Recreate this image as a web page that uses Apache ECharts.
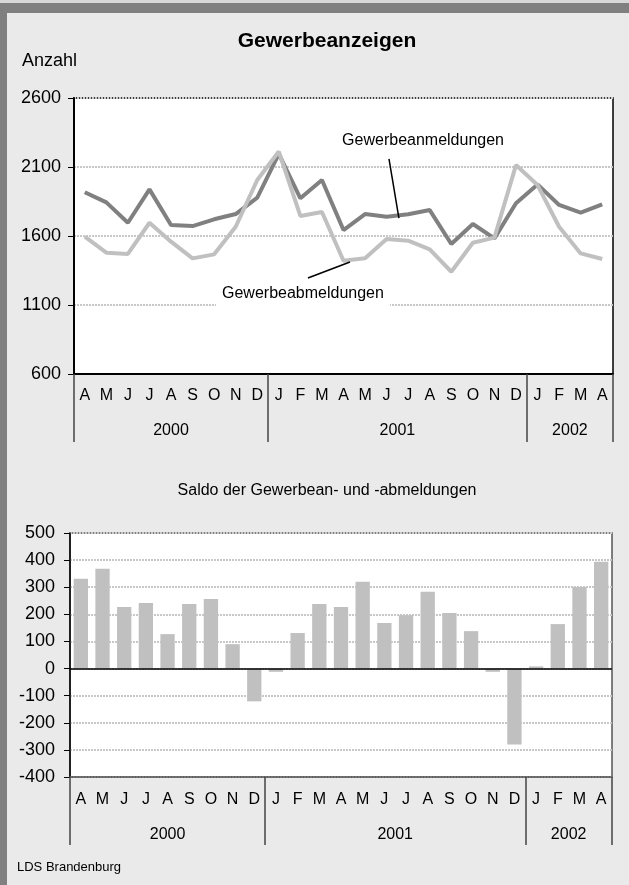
<!DOCTYPE html>
<html><head><meta charset="utf-8">
<script src="https://cdn.jsdelivr.net/npm/echarts@6/dist/echarts.min.js"></script>
<style>html,body{margin:0;padding:0;background:#eaeaea;} #c{width:629px;height:885px;}</style>
</head><body><div id="c"></div>
<script>
// ---- data ----
const months = ['A','M','J','J','A','S','O','N','D','J','F','M','A','M','J','J','A','S','O','N','D','J','F','M','A'];
const years = ['2000','2001','2002'];
const monthsPerYear = [9, 12, 4];
const anmeldungen = [1917,1844,1696,1938,1680,1672,1721,1759,1878,2195,1873,2006,1643,1759,1740,1757,1788,1542,1687,1583,1837,1974,1825,1769,1829];
const abmeldungen = [1595,1479,1470,1696,1559,1438,1467,1667,2006,2212,1745,1774,1421,1438,1578,1566,1503,1341,1551,1588,2114,1969,1667,1474,1433];
const saldo = [331,368,227,242,127,238,257,90,-121,-12,131,238,227,320,168,197,283,205,138,-12,-280,8,164,301,394];
const topAxis = {min: 600, max: 2600, step: 500};
const bottomAxis = {min: -400, max: 500, step: 100};

const FONT = '"Liberation Sans", Arial, sans-serif';
const nCat = months.length;
const yearPos = [], yearBounds = [0];
let acc = 0;
monthsPerYear.forEach(n => { yearPos.push(acc + n / 2); acc += n; yearBounds.push(acc); });
function yearFmt(v) { const i = yearPos.findIndex(p => Math.abs(p - v) < 1e-6); return i >= 0 ? years[i] : ''; }

const gridLine = {show: true, lineStyle: {color: '#c8c8c8', width: 2, type: [2, 1]}};

function monthAxis(gi, margin) {
  return {type: 'category', gridIndex: gi, data: months, position: 'bottom', boundaryGap: true,
    axisLine: {onZero: false, lineStyle: {color: gi === 0 ? '#000' : '#555', width: gi === 0 ? 2 : 1.5}},
    axisTick: {show: false},
    axisLabel: {color: '#000', fontSize: 16, margin: margin, interval: 0, fontFamily: FONT},
    splitLine: {show: false}};
}
function yearAxis(gi, margin) {
  return {type: 'value', gridIndex: gi, min: 0, max: nCat, position: 'bottom',
    axisLine: {show: false, onZero: false}, splitLine: {show: false},
    axisTick: {show: true, inside: false, length: 68, customValues: yearBounds, lineStyle: {color: '#444', width: 1.5}},
    axisLabel: {show: true, customValues: yearPos, formatter: yearFmt, color: '#000', fontSize: 16, margin: margin, fontFamily: FONT}};
}
function valAxis(gi, ax, margin) {
  return {type: 'value', gridIndex: gi, min: ax.min, max: ax.max, interval: ax.step,
    axisLine: {show: true, onZero: false, lineStyle: {color: '#000', width: gi === 0 ? 2 : 1.5}},
    axisTick: {show: true, length: 6, lineStyle: {color: '#000', width: 1}},
    axisLabel: {fontSize: 18, color: '#000', margin: margin, fontFamily: FONT, formatter: v => String(v)},
    splitLine: gridLine};
}

const chart = echarts.init(document.getElementById('c'), null, {renderer: 'canvas'});
chart.setOption({
  animation: false,
  backgroundColor: '#eaeaea',
  textStyle: {fontFamily: FONT},
  grid: [
    {left: 74, top: 98, width: 539, height: 276, show: true, backgroundColor: '#fff', borderColor: '#000', borderWidth: 1.5},
    {left: 70, top: 533, width: 542, height: 244, show: true, backgroundColor: '#fff', borderColor: '#555', borderWidth: 1.5}
  ],
  xAxis: [monthAxis(0, 14), yearAxis(0, 49), monthAxis(1, 15), yearAxis(1, 50)],
  yAxis: [valAxis(0, topAxis, 13), valAxis(1, bottomAxis, 15)],
  series: [
    {type: 'line', name: 'Gewerbeanmeldungen', xAxisIndex: 0, yAxisIndex: 0, data: anmeldungen,
     symbol: 'none', lineStyle: {color: '#808080', width: 4}, itemStyle: {color: '#808080'}},
    {type: 'line', name: 'Gewerbeabmeldungen', xAxisIndex: 0, yAxisIndex: 0, data: abmeldungen,
     symbol: 'none', lineStyle: {color: '#c0c0c0', width: 4}, itemStyle: {color: '#c0c0c0'}},
    {type: 'bar', name: 'Saldo', xAxisIndex: 2, yAxisIndex: 1, data: saldo, barWidth: '66%',
     itemStyle: {color: '#c0c0c0'},
     markLine: {silent: true, symbol: 'none', label: {show: false}, lineStyle: {color: '#000', width: 1.5, type: 'solid'}, data: [{yAxis: 0}]}}
  ]
});

// ---- annotations (label positions in axis space of the top chart) ----
const annotations = [
  {text: 'Gewerbeanmeldungen', at: [16.19, 2288], line: [[14.61, 2158], [15.07, 1730]], box: false},
  {text: 'Gewerbeabmeldungen', at: [10.62, 1180], line: [[10.85, 1296], [12.80, 1412]], box: true}
];
const px = p => chart.convertToPixel({xAxisIndex: 1, yAxisIndex: 0}, p);
const g = [
  {type: 'rect', shape: {x: 0, y: 0, width: 629, height: 3}, style: {fill: '#d8d8d8'}, z: 100},
  {type: 'rect', shape: {x: 0, y: 3, width: 629, height: 10}, style: {fill: '#808080'}, z: 100},
  {type: 'rect', shape: {x: 0, y: 3, width: 7, height: 882}, style: {fill: '#808080'}, z: 100},
  {type: 'text', style: {text: 'Gewerbeanzeigen', x: 327, y: 41, align: 'center', verticalAlign: 'middle', font: 'bold 21px ' + FONT, fill: '#000'}, z: 100},
  {type: 'text', style: {text: 'Anzahl', x: 22, y: 61, align: 'left', verticalAlign: 'middle', font: '18px ' + FONT, fill: '#000'}, z: 100},
  {type: 'text', style: {text: 'Saldo der Gewerbean- und -abmeldungen', x: 327, y: 491, align: 'center', verticalAlign: 'middle', font: '16px ' + FONT, fill: '#000'}, z: 100},
  {type: 'text', style: {text: 'LDS Brandenburg', x: 17, y: 867, align: 'left', verticalAlign: 'middle', font: '13px ' + FONT, fill: '#000'}, z: 100}
];
annotations.forEach(a => {
  const c = px(a.at), p1 = px(a.line[0]), p2 = px(a.line[1]);
  if (a.box) g.push({type: 'rect', shape: {x: c[0] - 87, y: c[1] - 11, width: 174, height: 25}, style: {fill: '#fff'}, z: 100});
  g.push({type: 'text', style: {text: a.text, x: c[0], y: c[1], align: 'center', verticalAlign: 'middle', font: '16px ' + FONT, fill: '#000'}, z: 101});
  g.push({type: 'line', shape: {x1: p1[0], y1: p1[1], x2: p2[0], y2: p2[1]}, style: {stroke: '#000', lineWidth: 1.5}, z: 101});
});
chart.setOption({graphic: g});
</script></body></html>
